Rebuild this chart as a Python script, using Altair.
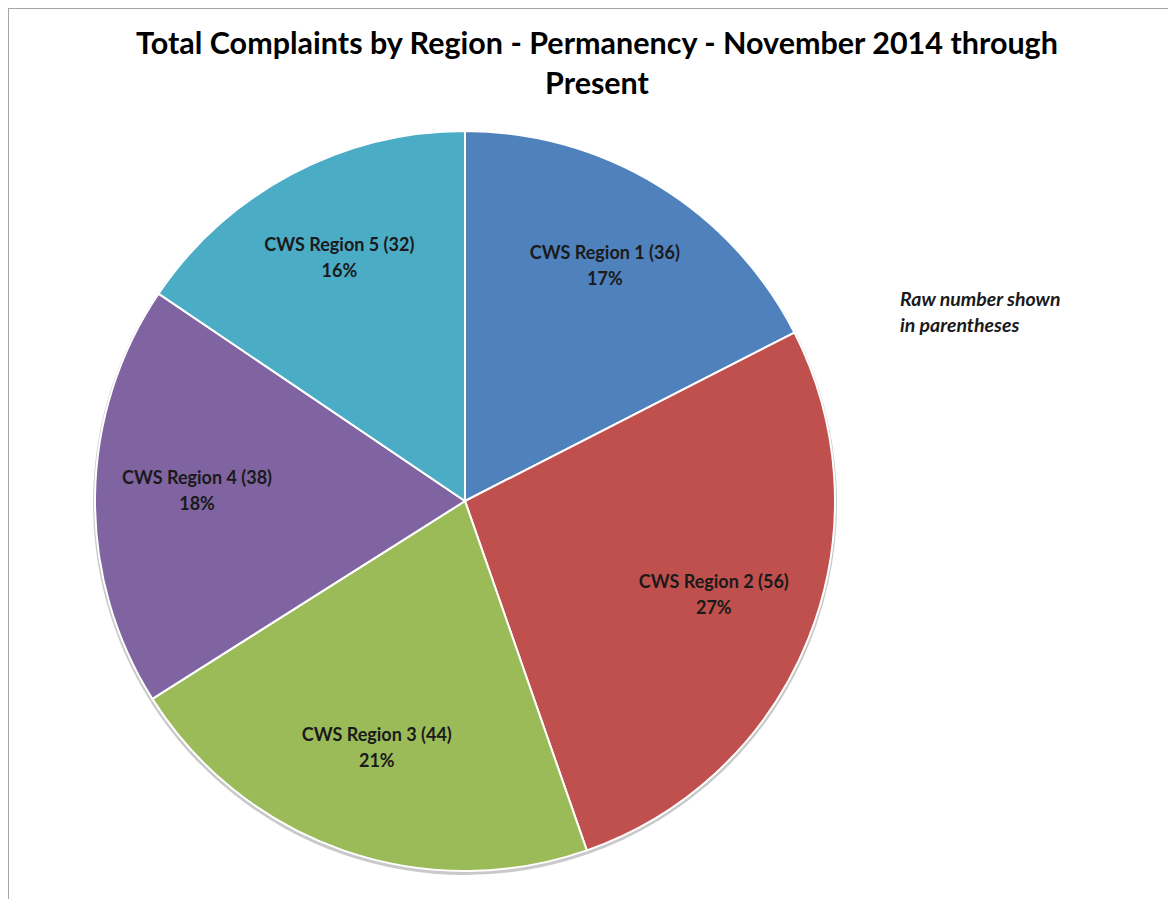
import altair as alt
import pandas as pd

regions = ["CWS Region 1", "CWS Region 2", "CWS Region 3", "CWS Region 4", "CWS Region 5"]
counts = [36, 56, 44, 38, 32]
colors = ["#4F81BD", "#C0504D", "#9BBB59", "#8064A2", "#4BACC6"]
title_lines = ["Total Complaints by Region - Permanency - November 2014 through", "Present"]
note_lines = ["Raw number shown", "in parentheses"]

total = sum(counts)
df = pd.DataFrame({"region": regions, "count": counts, "order": list(range(len(regions)))})
df["name"] = [f"{r} ({c})" for r, c in zip(regions, counts)]
df["pct"] = [f"{round(c / total * 100)}%" for c in counts]

FONT = "Lato"
CX, CY, R = 454, 492, 370

base = alt.Chart(df).encode(
    theta=alt.Theta("count:Q", stack=True),
    order=alt.Order("order:Q"),
)

shadow = base.mark_arc(outerRadius=R + 2, color="#c9c9c9").encode(
    x=alt.value(CX), y=alt.value(CY + 2)
)

pie = base.mark_arc(outerRadius=R, stroke="white", strokeWidth=2).encode(
    color=alt.Color("region:N", scale=alt.Scale(domain=regions, range=colors), legend=None),
    x=alt.value(CX),
    y=alt.value(CY),
)

lab1 = base.mark_text(radius=268, fontSize=18, fontWeight="bold", font=FONT, dy=-18, color="#1a1a1a").encode(
    text="name:N", x=alt.value(CX), y=alt.value(CY)
)
lab2 = base.mark_text(radius=268, fontSize=18, fontWeight="bold", font=FONT, dy=8, color="#1a1a1a").encode(
    text="pct:N", x=alt.value(CX), y=alt.value(CY)
)

one = alt.Chart(pd.DataFrame({"k": [0]}))

title = one.mark_text(
    text=title_lines, fontSize=30.5, fontWeight="bold", font=FONT, lineHeight=40,
    align="center", baseline="middle", color="#000000"
).encode(x=alt.value(586), y=alt.value(36))

note = one.mark_text(
    text=note_lines, fontSize=19.5, fontWeight="bold", fontStyle="italic", font=FONT, lineHeight=26,
    align="left", baseline="middle", color="#1a1a1a"
).encode(x=alt.value(889), y=alt.value(291))

top_rule = one.mark_rule(color="#a6a6a6", strokeWidth=2).encode(
    x=alt.value(-3), x2=alt.value(1170), y=alt.value(-1)
)
left_rule = one.mark_rule(color="#a6a6a6", strokeWidth=2).encode(
    x=alt.value(-3), y=alt.value(-1), y2=alt.value(900)
)

chart = alt.layer(top_rule, left_rule, shadow, pie, lab1, lab2, title, note).properties(
    width=1157, height=890,
    padding={"left": 3, "top": 1, "right": 0, "bottom": 0},
    autosize="none",
    background="white",
).configure_view(stroke=None)

chart.save("out.html", embed_options={"renderer": "svg", "actions": False})
